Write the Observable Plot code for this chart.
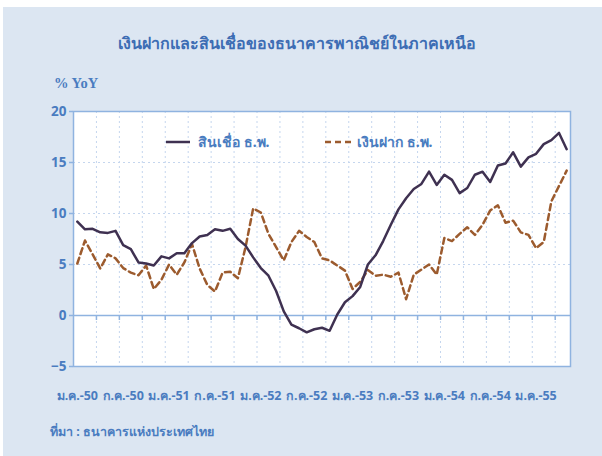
<!DOCTYPE html>
<html>
<head>
<meta charset="utf-8">
<script src="https://cdn.jsdelivr.net/npm/d3@7"></script>
<script src="https://cdn.jsdelivr.net/npm/@observablehq/plot@0.6"></script>
<style>
  html, body { margin: 0; padding: 0; background: #ffffff; width: 602px; height: 456px; overflow: hidden; }
  #panel { position: absolute; left: 3px; top: 7px; width: 599px; height: 449px; background: #dce6f2; }
  .t { position: absolute; font-family: "Noto Sans", "DejaVu Sans", sans-serif; font-weight: bold; color: #4a7cc0; white-space: nowrap; }
  #title { left: 0; width: 594px; top: 31px; text-align: center; font-size: 16px; color: #3d6db4; }
  #unit { left: 54px; top: 75px; font-size: 14.5px; font-family: "Liberation Serif", serif; }
  #source { left: 50px; top: 422px; font-size: 12.5px; }
  #chart { position: absolute; left: 0; top: 60px; }
  .leg { position: absolute; font-family: "Noto Sans", "DejaVu Sans", sans-serif; font-weight: bold; color: #4a7cc0; font-size: 14px; white-space: nowrap; display: flex; align-items: center; }
</style>
</head>
<body>
<div id="panel"></div>
<div class="t" id="title">เงินฝากและสินเชื่อของธนาคารพาณิชย์ในภาคเหนือ</div>
<div class="t" id="unit">% YoY</div>
<div id="chart"></div>
<div class="leg" id="leg1" style="left:166px; top:131px;"><svg width="24" height="6" style="margin-right:8px"><line x1="0" y1="3" x2="24" y2="3" stroke="#3f3151" stroke-width="2.5"/></svg>สินเชื่อ ธ.พ.</div>
<div class="leg" id="leg2" style="left:325px; top:131px;"><svg width="26" height="6" style="margin-right:6px"><line x1="0" y1="3" x2="26" y2="3" stroke="#9c5b2e" stroke-width="2.5" stroke-dasharray="6,4"/></svg>เงินฝาก ธ.พ.</div>
<div class="t" id="source">ที่มา : ธนาคารแห่งประเทศไทย</div>
<script>
// Monthly % YoY, Jan 2550 (2007) .. May 2555 (2012)
const loans = [
  9.2, 8.45, 8.5, 8.15, 8.1, 8.3, 6.9, 6.5, 5.2, 5.1, 4.9, 5.8,
  5.6, 6.1, 6.1, 7.1, 7.75, 7.9, 8.45, 8.3, 8.5, 7.5, 6.85, 5.7,
  4.65, 3.9, 2.4, 0.4, -0.9, -1.25, -1.65, -1.35, -1.2, -1.5, 0.1, 1.3,
  1.9, 2.8, 5.0, 5.9, 7.3, 8.9, 10.4, 11.5, 12.4, 12.9, 14.1, 12.8,
  13.8, 13.3, 12.0, 12.5, 13.8, 14.1, 13.1, 14.7, 14.9, 16.0, 14.6, 15.5,
  15.85, 16.8, 17.2, 17.9, 16.3
];
const deposits = [
  5.1, 7.35, 6.0, 4.6, 6.0, 5.6, 4.65, 4.2, 3.95, 4.9, 2.6, 3.5,
  5.0, 4.0, 5.2, 7.0, 4.6, 3.0, 2.35, 4.2, 4.3, 3.65, 6.7, 10.5,
  10.1, 8.0, 6.7, 5.4, 7.2, 8.3, 7.7, 7.2, 5.6, 5.4, 4.9, 4.4,
  2.6, 3.3, 4.45, 3.9, 4.0, 3.8, 4.2, 1.6, 4.0, 4.5, 5.0, 4.0,
  7.6, 7.3, 8.0, 8.65, 7.9, 8.9, 10.3, 10.8, 9.1, 9.3, 8.15, 7.9,
  6.6, 7.2, 11.2, 12.7, 14.2
];
const tickLabels = ["ม.ค.-50","ก.ค.-50","ม.ค.-51","ก.ค.-51","ม.ค.-52","ก.ค.-52","ม.ค.-53","ก.ค.-53","ม.ค.-54","ก.ค.-54","ม.ค.-55"];
const yTicks = [-5, 0, 5, 10, 15, 20];

const n = loans.length;
const rowsL = loans.map((v, i) => ({i, v}));
const rowsD = deposits.map((v, i) => ({i, v}));
const labelIdx = tickLabels.map((_, k) => k * 6);
const boundaries = d3.range(2.5, n - 1, 3); // tick marks every 3 months between categories

const blue = "#4a7cc0";
const frameCol = "#8fb3e0";
const gridCol = "#c5d6ee";

const chart = Plot.plot({
  width: 602,
  height: 355,
  marginLeft: 73,
  marginRight: 32,
  marginTop: 51,
  marginBottom: 49,
  style: {background: "transparent", fontFamily: "'Noto Sans', 'DejaVu Sans', sans-serif"},
  x: {domain: [-0.5, n - 0.5], axis: null},
  y: {domain: [-5, 20], axis: null},
  marks: [
    Plot.frame({fill: "white"}),
    Plot.ruleY([5, 10, 15], {stroke: gridCol, strokeWidth: 1, strokeDasharray: "2,3"}),
    Plot.ruleX(boundaries, {stroke: gridCol, strokeWidth: 1, strokeDasharray: "2,3"}),
    Plot.ruleX(boundaries, {y1: 0, y2: 0, insetBottom: -5, stroke: frameCol, strokeWidth: 1.5}),
    Plot.ruleY([0], {stroke: frameCol, strokeWidth: 1.5}),
    Plot.frame({stroke: frameCol, strokeWidth: 1.5}),
    Plot.axisY({ticks: yTicks, tickSize: 4, tickPadding: 3, stroke: frameCol, strokeWidth: 1.5,
      fill: blue, fontSize: 13.5, fontWeight: "bold", label: null}),
    Plot.axisX({ticks: labelIdx, tickFormat: i => tickLabels[i / 6], tickSize: 0, tickPadding: 25,
      fill: blue, fontSize: 12.5, fontWeight: "bold", label: null}),
    Plot.line(rowsD, {x: "i", y: "v", stroke: "#9c5b2e", strokeWidth: 2.5, strokeDasharray: "6,4"}),
    Plot.line(rowsL, {x: "i", y: "v", stroke: "#3f3151", strokeWidth: 2.5})
  ]
});
document.getElementById("chart").appendChild(chart);
</script>
</body>
</html>
